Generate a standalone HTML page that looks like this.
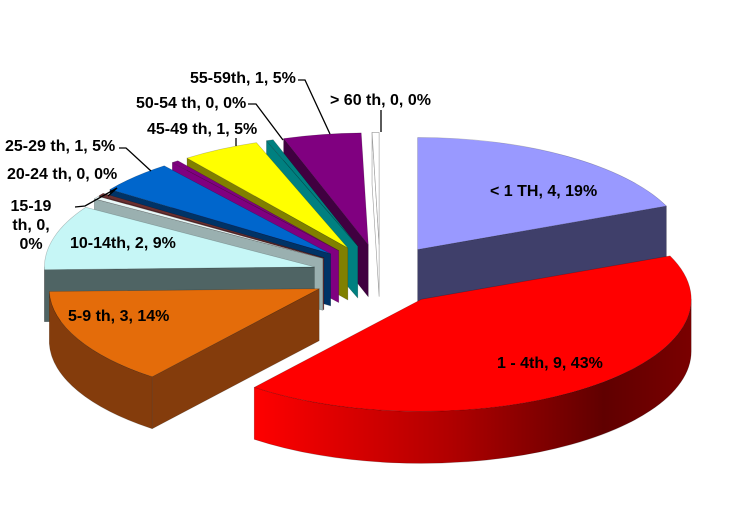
<!DOCTYPE html>
<html><head><meta charset="utf-8"><style>
html,body{margin:0;padding:0;background:#fff;}
svg{display:block;}
text{font-family:"Liberation Sans",Arial,sans-serif;font-weight:bold;font-size:16px;fill:#000;}
</style></head><body>
<svg id="chart" width="741" height="527" viewBox="0 0 741 527" xmlns="http://www.w3.org/2000/svg">
<defs>
<linearGradient id="redWall" x1="0" x2="1" y1="0" y2="0">
<stop offset="0" stop-color="#ff0000"/><stop offset="0.45" stop-color="#b00000"/><stop offset="0.8" stop-color="#600000"/><stop offset="1" stop-color="#7a0000"/>
</linearGradient>
</defs>
<g id="slices"></g>
<g id="labels">
<text x="490" y="196">&lt; 1 TH, 4, 19%</text>
<text x="497" y="368">1 - 4th, 9, 43%</text>
<text x="68" y="321">5-9 th, 3, 14%</text>
<text x="70" y="248">10-14th, 2, 9%</text>
<text x="31" y="211" text-anchor="middle">15-19</text>
<text x="31" y="230" text-anchor="middle">th, 0,</text>
<text x="31" y="249" text-anchor="middle">0%</text>
<text x="7" y="179">20-24 th, 0, 0%</text>
<text x="5" y="151">25-29 th, 1, 5%</text>
<text x="147" y="134">45-49 th, 1, 5%</text>
<text x="136" y="108">50-54 th, 0, 0%</text>
<text x="190" y="83">55-59th, 1, 5%</text>
<text x="330" y="105">&gt; 60 th, 0, 0%</text>
</g>
<g fill="none" stroke="#000" stroke-width="1.3">
<polyline points="298,80 305,80 330,134"/>
<polyline points="248,104 256,104 283,140"/>
<polyline points="236,138 236,146"/>
<polyline points="381,110 381,132"/>
<polyline points="119,148 126,148 151,171"/>
<polyline points="117,188 108,196"/>
<polyline points="75,207 85,206 117,188"/>
</g>
</svg>
<script>
const categories = ["< 1 TH","1 - 4th","5-9 th","10-14th","15-19 th","20-24 th","25-29 th","30-44 th","45-49 th","50-54 th","55-59th","> 60 th"];
const values = [4,9,3,2,0,0,1,0,1,0,1,0];
const topColors = ["#9999ff","#ff0000","#e46c0a","#c6f6f6","#e8f8f8","#6b3030","#0066cc","#800080","#ffff00","#008080","#800080","#ffffff"];
const wallColors = ["#3f3f6a","url(#redWall)","#843c0c","#4f6464","#9ab0b0","#6b3030","#003366","#800080","#808000","#008080","#400040","#ffffff"];

const cx=380, cy=275, rx=270, ry=112, depth=52, explode=68, k=0.45, zeroDeg=1.5;
const NS="http://www.w3.org/2000/svg";
const g=document.getElementById('slices');
const total=values.reduce((a,b)=>a+b,0);
const nZero=values.filter(v=>v===0).length;
const avail=360-nZero*zeroDeg;
const rad=d=>d*Math.PI/180;
let acc=0;
const slices=values.map((v,i)=>{
  const span = v===0 ? zeroDeg : v/total*avail;
  const s={i,a0:acc,a1:acc+span};acc+=span;
  const m=rad((s.a0+s.a1)/2);
  s.ax=cx+explode*Math.sin(m); s.ay=cy-explode*k*Math.cos(m);
  s.key=-Math.cos(m);
  return s;
});
function P(s,a,dy){return [s.ax+rx*Math.sin(rad(a)), s.ay-ry*Math.cos(rad(a))+(dy||0)];}
function add(d,fill,name,stroke){
  const p=document.createElementNS(NS,'path');
  p.setAttribute('d',d);p.setAttribute('fill',fill);
  p.setAttribute('stroke',stroke||'rgba(0,0,0,0.25)');p.setAttribute('stroke-width','0.6');
  p.setAttribute('stroke-linejoin','round');
  
  
  g.appendChild(p);
}
const order=slices.slice().sort((a,b)=>a.key-b.key || b.i-a.i);
order.forEach(s=>{
  const i=s.i, nm=categories[i].replace(/[^a-z0-9]+/gi,'-').toLowerCase();
  const stroke = i===11 ? '#999' : null;
  const walls=[];
  if(Math.cos(rad(s.a0-90))<0) walls.push(s.a0);
  if(Math.cos(rad(s.a1+90))<0) walls.push(s.a1);
  walls.forEach(a=>{
    const e=P(s,a);
    add(`M${s.ax},${s.ay} L${e[0]},${e[1]} L${e[0]},${e[1]+depth} L${s.ax},${s.ay+depth} Z`, wallColors[i]==="url(#redWall)"?"#900000":wallColors[i], 'slice-side-'+nm, stroke);
  });
  const b0=Math.max(s.a0,90), b1=Math.min(s.a1,270);
  if(b1>b0){
    const p0=P(s,b0), p1=P(s,b1), large=(b1-b0)>180?1:0;
    add(`M${p0[0]},${p0[1]} A${rx},${ry} 0 ${large} 1 ${p1[0]},${p1[1]} L${p1[0]},${p1[1]+depth} A${rx},${ry} 0 ${large} 0 ${p0[0]},${p0[1]+depth} Z`, wallColors[i], 'slice-wall-'+nm, stroke);
  }
  const t0=P(s,s.a0), t1=P(s,s.a1), lg=(s.a1-s.a0)>180?1:0;
  add(`M${s.ax},${s.ay} L${t0[0]},${t0[1]} A${rx},${ry} 0 ${lg} 1 ${t1[0]},${t1[1]} Z`, topColors[i], 'slice-'+nm, stroke);
});
</script>
</body></html>
